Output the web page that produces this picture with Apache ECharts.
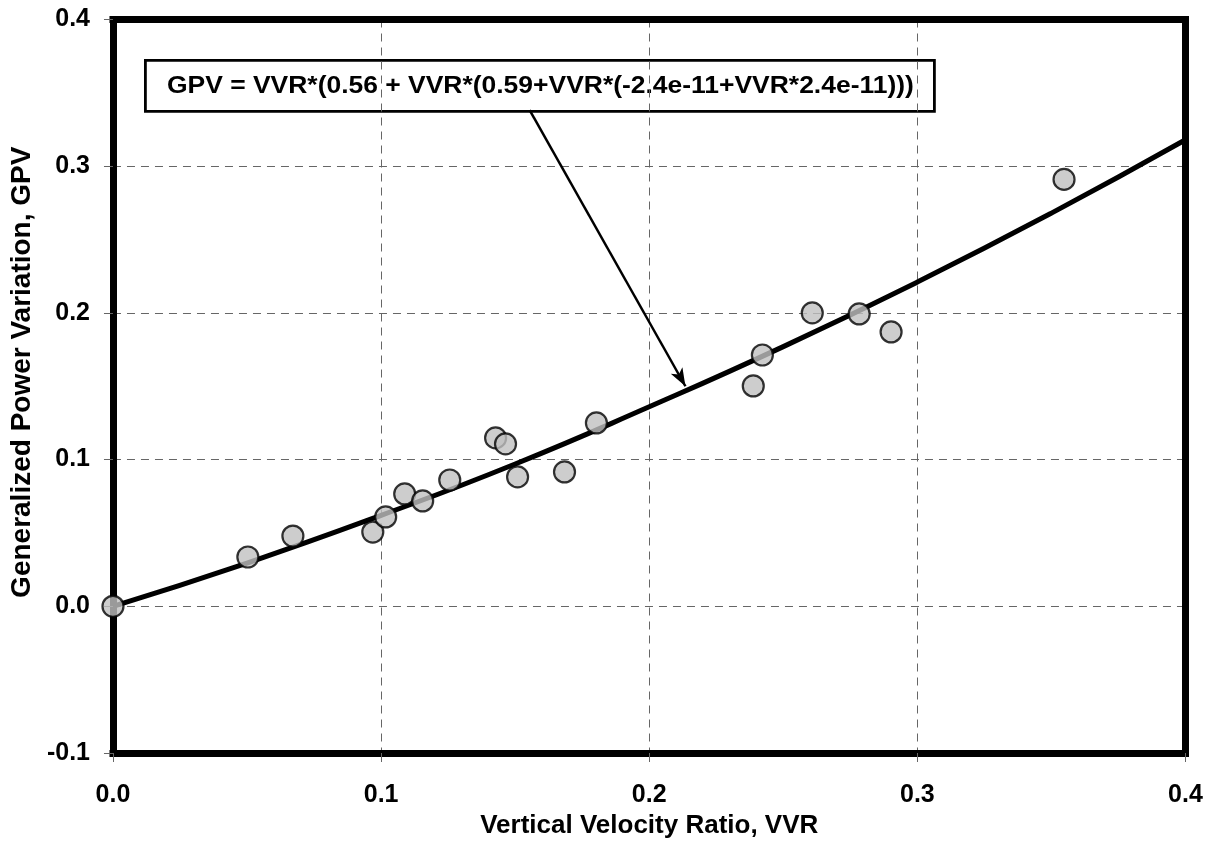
<!DOCTYPE html>
<html>
<head>
<meta charset="utf-8">
<script src="https://cdn.jsdelivr.net/npm/echarts@6/dist/echarts.min.js"></script>
<style>html,body{margin:0;padding:0;background:#fff}#c{width:1217px;height:845px}</style>
</head>
<body>
<div id="c"></div>
<script>
const xTicks = [0.0, 0.1, 0.2, 0.3, 0.4];
const yTicks = [-0.1, 0.0, 0.1, 0.2, 0.3, 0.4];
const vvr = [0, 0.0503, 0.0671, 0.0969, 0.1017, 0.1088, 0.1155, 0.1256, 0.1427, 0.1464, 0.1509, 0.1684, 0.1803, 0.2388, 0.2422, 0.2608, 0.2783, 0.2902, 0.3547];
const gpv = [0, 0.0336, 0.0479, 0.0506, 0.0609, 0.0766, 0.0718, 0.0861, 0.1148, 0.1107, 0.0882, 0.0916, 0.1250, 0.1502, 0.1713, 0.2000, 0.1993, 0.1870, 0.2910];
const fitX = [0, 0.05, 0.1, 0.15, 0.2, 0.25, 0.3, 0.35, 0.4];
const fitY = [0, 0.0295, 0.062, 0.097, 0.136, 0.177, 0.221, 0.268, 0.318];
const arrowFrom = [0.1554, 0.3383];
const arrowTo = [0.2135, 0.150];
const equationText = 'GPV = VVR*(0.56 + VVR*(0.59+VVR*(-2.4e-11+VVR*2.4e-11)))';
const xName = 'Vertical Velocity Ratio, VVR';
const yName = 'Generalized Power Variation, GPV';

const font = '"Liberation Sans", Arial, sans-serif';
const labelStyle = {fontFamily: font, fontWeight: 'bold', fontSize: 25, color: '#000'};
const frameLine = {show: true, onZero: false, lineStyle: {color: '#000', width: 7, cap: 'square'}};
const dash = {show: true, showMinLine: false, showMaxLine: false, lineStyle: {color: '#666', type: [8, 6], width: 1}};
const chart = echarts.init(document.getElementById('c'));
chart.setOption({
  animation: false,
  backgroundColor: '#fff',
  grid: {left: 112, right: 31.5, top: 19.5, bottom: 92, show: false},
  xAxis: [{
    type: 'value', min: xTicks[0], max: xTicks[xTicks.length-1], interval: 0.1, position: 'bottom',
    name: xName, nameLocation: 'middle', nameGap: 59,
    nameTextStyle: {fontFamily: font, fontWeight: 'bold', fontSize: 26, color: '#000'},
    axisLine: frameLine,
    axisTick: {show: true, length: 9, lineStyle: {color: '#666', width: 1}},
    axisLabel: Object.assign({margin: 30, formatter: v => v.toFixed(1)}, labelStyle),
    splitLine: dash
  }, {
    type: 'value', min: xTicks[0], max: xTicks[xTicks.length-1], interval: 0.1, position: 'top',
    axisLine: frameLine, axisTick: {show: false}, axisLabel: {show: false}, splitLine: {show: false}
  }],
  yAxis: [{
    type: 'value', min: yTicks[0], max: yTicks[yTicks.length-1], interval: 0.1, position: 'left',
    name: yName, nameLocation: 'middle', nameGap: 74,
    nameTextStyle: {fontFamily: font, fontWeight: 'bold', fontSize: 28, color: '#000', padding: [0, 0, 0, 28]},
    axisLine: frameLine,
    axisTick: {show: true, length: 9, lineStyle: {color: '#666', width: 1}},
    axisLabel: Object.assign({margin: 23, formatter: v => v.toFixed(1)}, labelStyle),
    splitLine: dash
  }, {
    type: 'value', min: yTicks[0], max: yTicks[yTicks.length-1], interval: 0.1, position: 'right',
    axisLine: frameLine, axisTick: {show: false}, axisLabel: {show: false}, splitLine: {show: false}
  }],
  series: [
    {
      type: 'line', data: fitX.map((x, i) => [x, fitY[i]]), smooth: true, showSymbol: false,
      lineStyle: {color: '#000', width: 5}, z: 3,
      markLine: {
        silent: true, symbol: ['none', 'arrow'], symbolSize: [10, 18],
        lineStyle: {color: '#000', width: 2.5, type: 'solid'}, label: {show: false},
        data: [[{coord: arrowFrom}, {coord: arrowTo}]]
      }
    },
    {
      type: 'scatter', data: vvr.map((x, i) => [x, gpv[i]]), symbol: 'circle', symbolSize: 21,
      itemStyle: {color: '#c0c0c0', borderColor: '#000', borderWidth: 2.2}, z: 4
    }
  ],
  graphic: [{
    type: 'group', left: 144, top: 59, z: 100,
    children: [
      {type: 'rect', shape: {x: 0, y: 0, width: 789, height: 51}, style: {fill: '#fff', stroke: '#000', lineWidth: 2.8}},
      {type: 'text', x: 395, y: 26.5, scaleX: 1.15, style: {x: 0, y: 0, text: equationText, align: 'center', verticalAlign: 'middle', font: 'bold 23px ' + font, fill: '#000'}}
    ]
  }]
});
</script>
</body>
</html>
